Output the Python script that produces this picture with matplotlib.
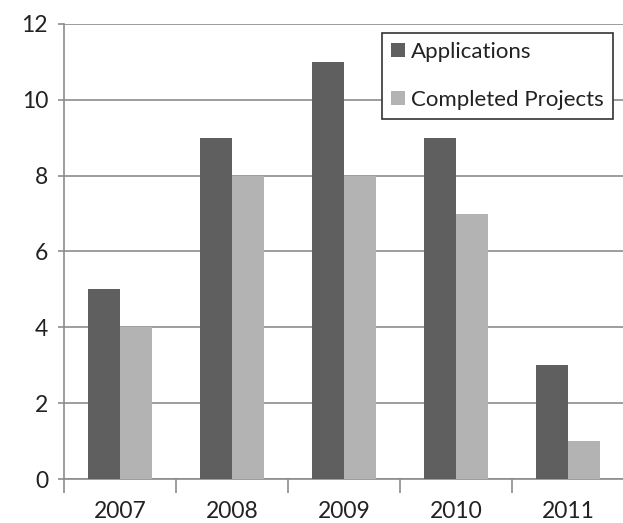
import matplotlib
matplotlib.use("Agg")
import matplotlib.pyplot as plt
import numpy as np

years = ["2007", "2008", "2009", "2010", "2011"]
applications = [5, 9, 11, 9, 3]
completed = [4, 8, 8, 7, 1]

plt.rcParams['font.family'] = ['Lato', 'DejaVu Sans']

fig = plt.figure(figsize=(6.23, 5.23), dpi=100)
ax = fig.add_axes([64/623, 1-479/523, 560/623, 455/523])

x = np.arange(len(years))
w = 32/112
ax.bar(x - w/2, applications, w, color="#5f5f5f", label="Applications", zorder=3)
ax.bar(x + w/2, completed, w, color="#b3b3b3", label="Completed Projects", zorder=3)

ax.set_xlim(-0.5, len(years) - 0.5)
ax.set_ylim(0, 12)
ax.set_yticks(range(0, 13, 2))
ax.yaxis.grid(True, color="#8c8c8c", linewidth=1.2, zorder=0)
ax.set_axisbelow(True)

for s in ["top", "right"]:
    ax.spines[s].set_visible(False)
for s in ["left", "bottom"]:
    ax.spines[s].set_color("#8c8c8c")
    ax.spines[s].set_linewidth(1.2)

ax.set_xticks(x)
ax.set_xticklabels(years)
ax.set_xticks(np.arange(-0.5, len(years)), minor=True)
ax.tick_params(axis="x", which="major", length=0, pad=16, labelsize=16.5)
ax.tick_params(axis="x", which="minor", length=10, width=1.2, color="#8c8c8c")
ax.tick_params(axis="y", length=4.5, width=1.2, color="#8c8c8c", labelsize=16.5, pad=7)
for t in ax.get_xticklabels() + ax.get_yticklabels():
    t.set_color("#222222")

leg = ax.legend(loc="upper right", bbox_to_anchor=(549/560, 446/455), fontsize=16,
                frameon=True, fancybox=False, edgecolor="#333333", framealpha=1,
                handlelength=0.6, handleheight=0.6, handletextpad=0.3,
                labelspacing=1.25, borderpad=0.4, borderaxespad=0)
leg.get_frame().set_linewidth(1.2)
for t in leg.get_texts():
    t.set_color("#222222")

fig.savefig("out.png", dpi=100)
